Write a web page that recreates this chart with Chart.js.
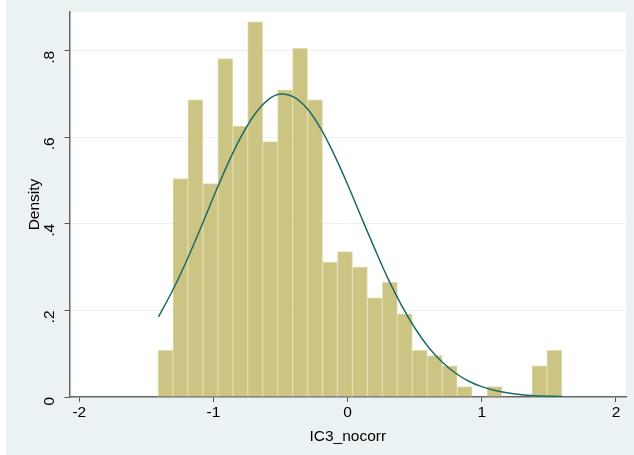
<!DOCTYPE html>
<html>
<head>
<meta charset="utf-8">
<script src="https://cdn.jsdelivr.net/npm/chart.js@4"></script>
<style>
  html, body { margin: 0; padding: 0; background: #ffffff; }
  #wrap { width: 634px; height: 455px; position: relative; }
</style>
</head>
<body>
<div id="wrap"><canvas id="c" width="634" height="455"></canvas></div>
<script>
// Histogram bins (left edge start, width) and densities
const binStart = -1.4135;
const binWidth = 0.1115;
const densities = [0.108, 0.505, 0.687, 0.493, 0.782, 0.626, 0.867, 0.590, 0.710, 0.806,
                   0.687, 0.312, 0.336, 0.300, 0.229, 0.265, 0.192, 0.108, 0.096, 0.072,
                   0.024, 0.000, 0.024, 0.000, 0.000, 0.072, 0.108];
// Normal density overlay
const curveX = [-1.41, -1.3, -1.2, -1.1, -1.0, -0.9, -0.8, -0.7, -0.6, -0.5, -0.4, -0.3, -0.2, -0.1,
                0.0, 0.1, 0.2, 0.3, 0.4, 0.5, 0.6, 0.7, 0.8, 0.9, 1.0, 1.1, 1.2, 1.3, 1.4, 1.5, 1.6];
const curveY = [0.185, 0.249, 0.315, 0.387, 0.462, 0.534, 0.598, 0.650, 0.685, 0.700, 0.693, 0.666, 0.620, 0.560,
                0.491, 0.417, 0.344, 0.274, 0.213, 0.160, 0.116, 0.082, 0.056, 0.037, 0.024, 0.015, 0.009, 0.005, 0.003, 0.002, 0.001];
const xTicks = [-2, -1, 0, 1, 2];
const yTicks = [0, 0.2, 0.4, 0.6, 0.8];
const yTickLabels = ['0', '.2', '.4', '.6', '.8'];

const barData = densities.map((d, i) => ({ x: binStart + binWidth * (i + 0.5), y: d }));
const lineData = curveX.map((x, i) => ({ x: x, y: curveY[i] }));

const bgPlugin = {
  id: 'bg',
  beforeDraw(chart) {
    const ctx = chart.ctx;
    const a = chart.chartArea;
    ctx.save();
    ctx.fillStyle = '#ffffff';
    ctx.fillRect(0, 0, chart.width, chart.height);
    ctx.fillStyle = '#EAF2F3';
    ctx.fillRect(6, 0, chart.width - 6, chart.height);
    ctx.fillStyle = '#ffffff';
    ctx.fillRect(a.left, a.top, a.right - a.left, a.bottom - a.top);
    ctx.restore();
  }
};

const font = { family: '"Liberation Sans", Arial, Helvetica, sans-serif', size: 15.5 };

new Chart(document.getElementById('c'), {
  data: {
    datasets: [
      {
        type: 'line',
        data: lineData,
        borderColor: '#1E6B66',
        borderWidth: 1.5,
        pointRadius: 0,
        tension: 0.4,
        cubicInterpolationMode: 'monotone',
        fill: false,
        order: 0
      },
      {
        type: 'bar',
        data: barData,
        backgroundColor: '#CCC483',
        borderColor: '#E2DBAE',
        borderWidth: 1,
        barPercentage: 1.0,
        categoryPercentage: 1.0,
        grouped: false,
        order: 1
      }
    ]
  },
  options: {
    responsive: false,
    animation: false,
    devicePixelRatio: 1,
    layout: { padding: { top: 12, right: 8, left: 0, bottom: 0 } },
    plugins: { legend: { display: false }, tooltip: { enabled: false } },
    scales: {
      x: {
        type: 'linear',
        offset: false,
        min: -2.073,
        max: 2.075,
        afterBuildTicks(scale) { scale.ticks = xTicks.map(v => ({ value: v })); },
        afterFit(scale) { scale.height = 58; scale.paddingLeft = 0; scale.paddingRight = 0; },
        grid: { display: true, offset: false, drawOnChartArea: false, drawTicks: true, tickLength: 5, color: '#555555', lineWidth: 1 },
        border: { display: true, color: '#666666', width: 1.5 },
        ticks: { color: '#000000', font: font, padding: 1, maxRotation: 0, minRotation: 0,
                 callback: v => String(v) },
        title: { display: true, text: 'IC3_nocorr', color: '#000000', font: font, padding: { top: 2, bottom: 9 } }
      },
      y: {
        type: 'linear',
        min: 0,
        max: 0.8897,
        afterBuildTicks(scale) { scale.ticks = yTicks.map(v => ({ value: v })); },
        afterFit(scale) { scale.width = 69.5; scale.paddingTop = 0; scale.paddingBottom = 0; },
        grid: {
          display: true, drawTicks: true, tickLength: 5,
          color: ctx => (ctx.tick && ctx.tick.value === 0 ? 'rgba(0,0,0,0)' : '#EAF2F3'),
          tickColor: '#555555', lineWidth: 1
        },
        border: { display: true, color: '#666666', width: 1.5 },
        ticks: { color: '#000000', font: font, padding: 15, minRotation: 90, maxRotation: 90,
                 callback: (v) => { const i = yTicks.indexOf(v); return i >= 0 ? yTickLabels[i] : ''; } },
        title: { display: true, text: 'Density', color: '#000000', font: font, padding: { top: 25, bottom: 2 } }
      }
    }
  },
  plugins: [bgPlugin]
});
</script>
</body>
</html>
